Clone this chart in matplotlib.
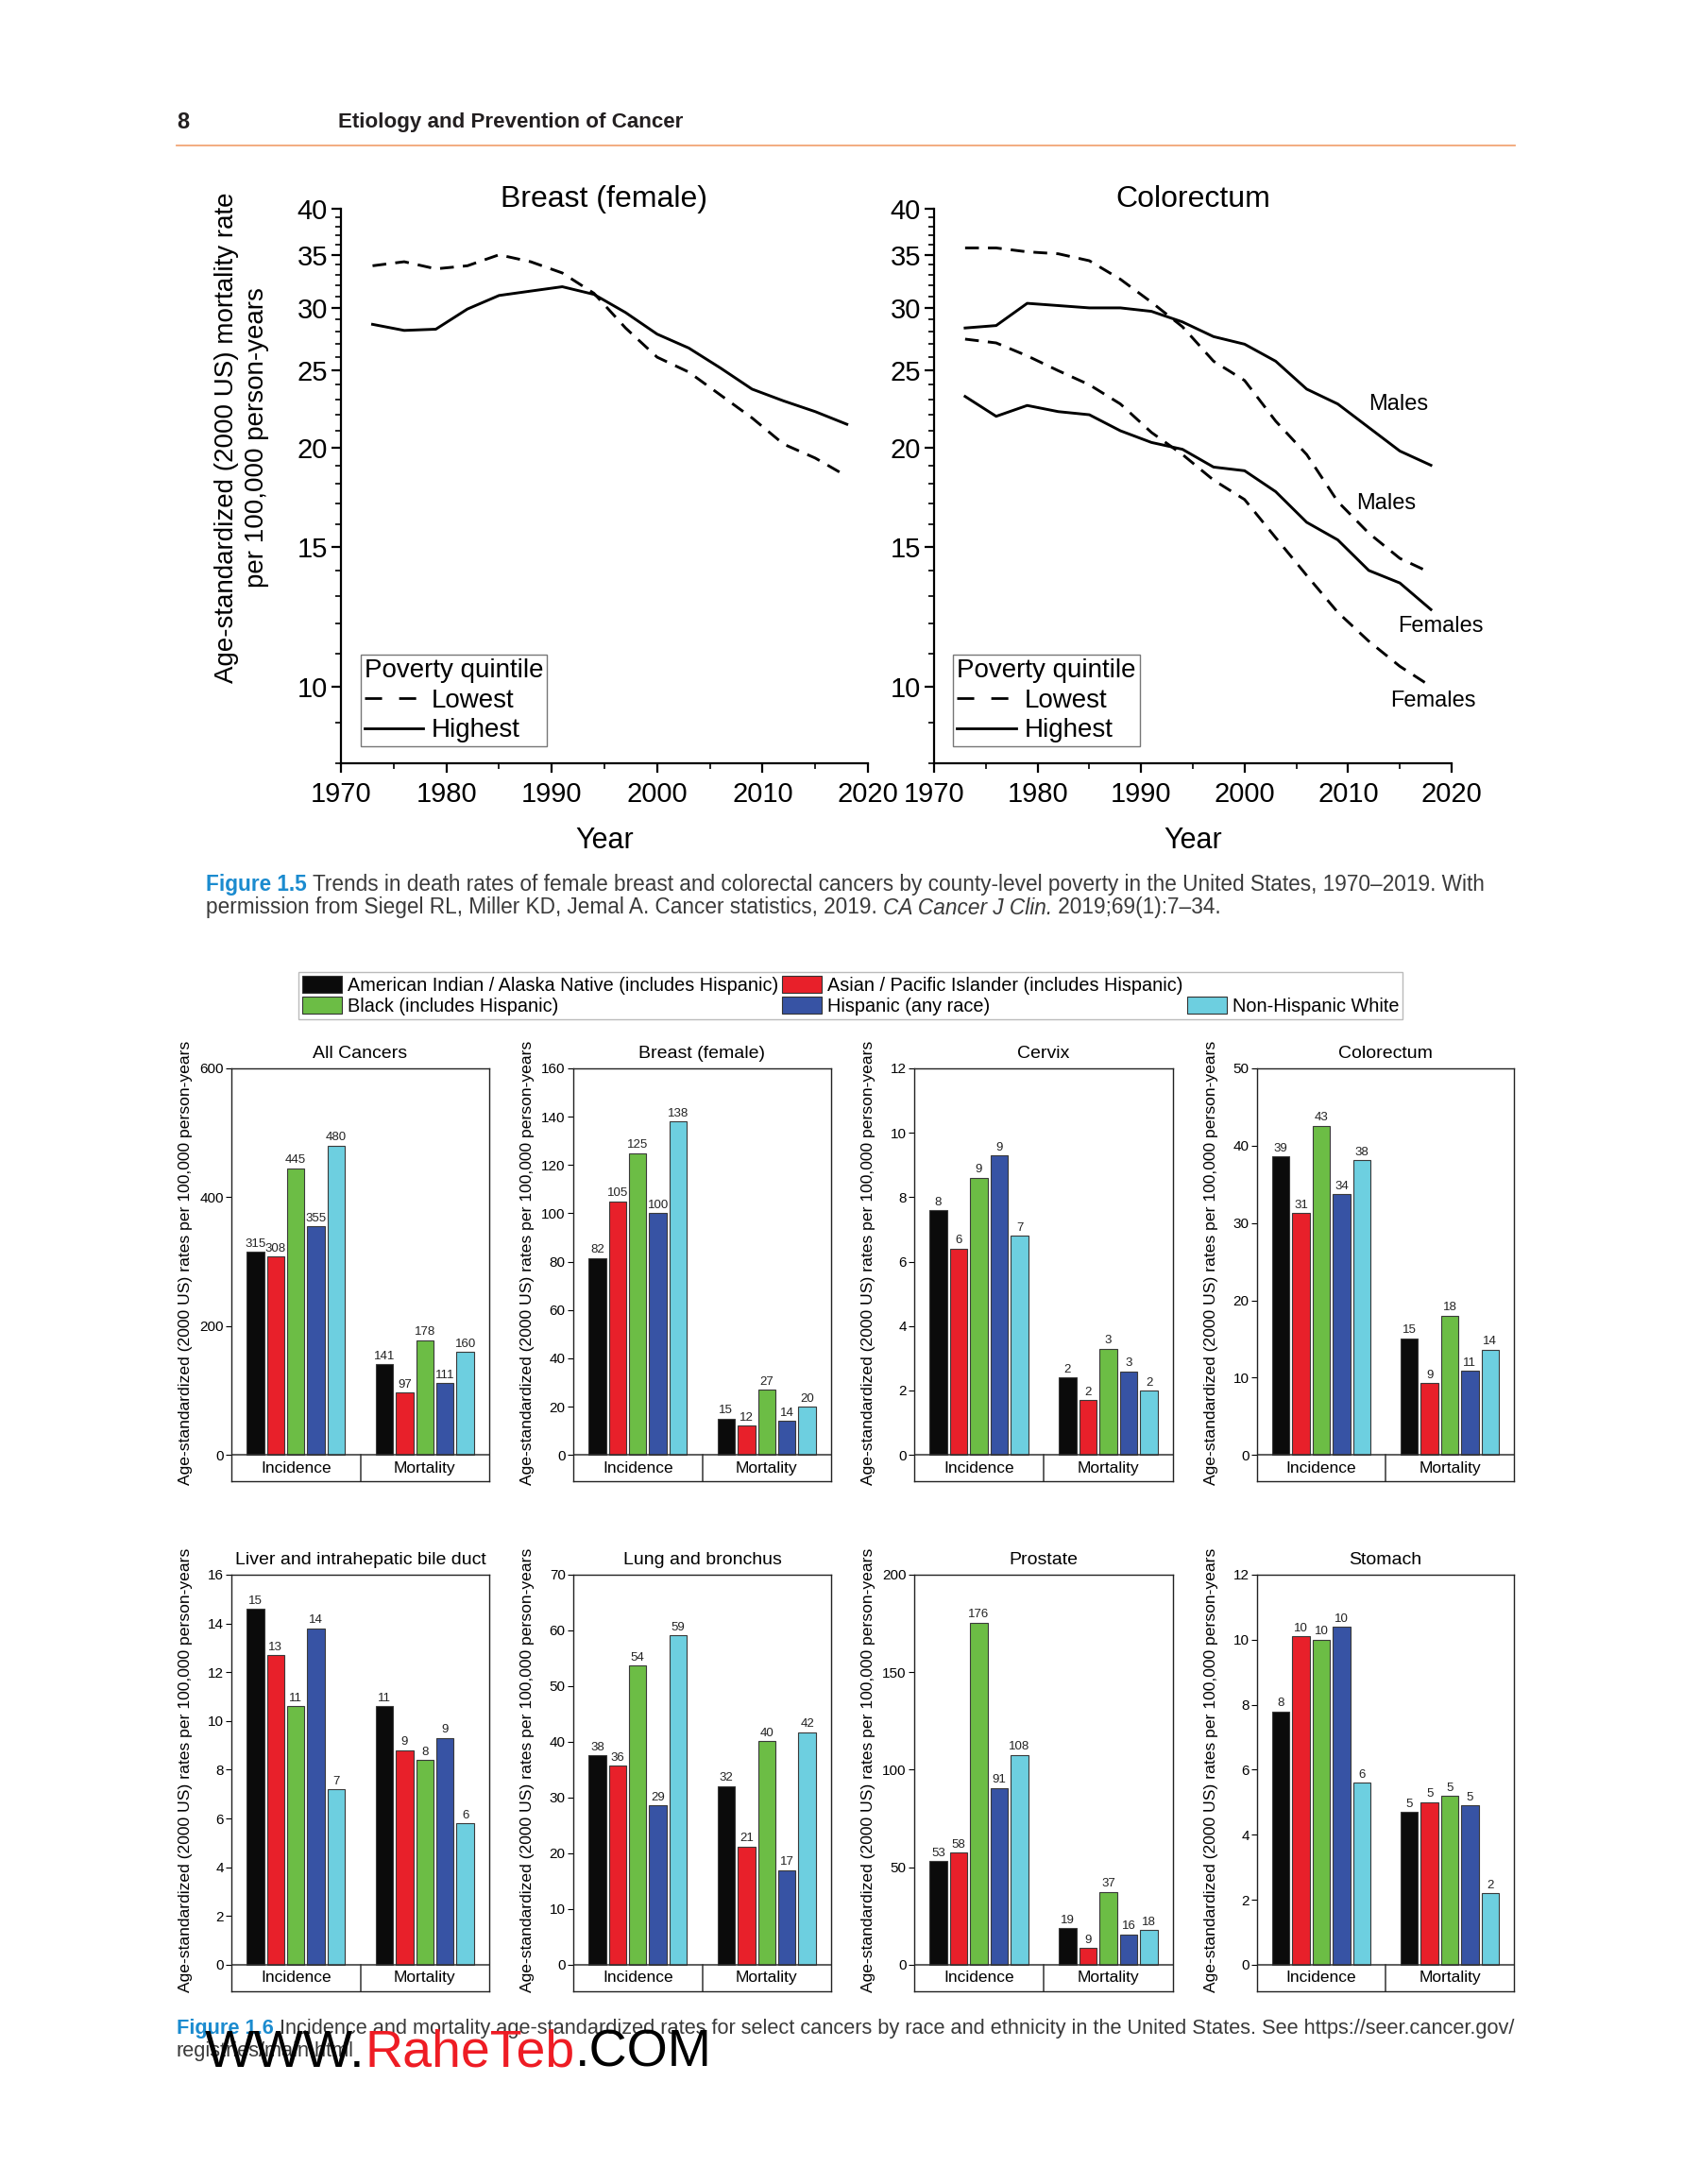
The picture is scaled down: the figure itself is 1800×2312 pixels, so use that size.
import numpy as np
import matplotlib
matplotlib.use("Agg")
import matplotlib.pyplot as plt
from matplotlib.lines import Line2D
from matplotlib.patches import Patch
from matplotlib.ticker import FixedLocator, FuncFormatter, NullFormatter, MultipleLocator

W, H, DPI = 1800, 2312, 100
plt.rcParams["font.family"] = ["Liberation Sans", "DejaVu Sans"]

# ---- Figure 1.5: death rates by county-level poverty quintile
years = [1973, 1976, 1979, 1982, 1985, 1988, 1991, 1994, 1997, 2000, 2003, 2006, 2009, 2012, 2015, 2018]
breast_lowest = [33.9, 34.3, 33.6, 33.9, 35.0, 34.3, 33.2, 31.3, 28.3, 26.0, 24.9, 23.3, 21.8, 20.2, 19.4, 18.4]
breast_highest = [28.6, 28.1, 28.2, 29.9, 31.1, 31.5, 31.9, 31.2, 29.6, 27.8, 26.7, 25.2, 23.7, 22.9, 22.2, 21.4]
crc_male_lowest = [35.7, 35.7, 35.3, 35.1, 34.4, 32.6, 30.5, 28.4, 25.7, 24.3, 21.6, 19.6, 17.1, 15.6, 14.5, 13.9]
crc_male_highest = [28.3, 28.5, 30.4, 30.2, 30.0, 30.0, 29.7, 28.8, 27.6, 27.0, 25.7, 23.7, 22.7, 21.2, 19.8, 19.0]
crc_female_lowest = [27.4, 27.1, 26.1, 25.0, 24.0, 22.7, 20.9, 19.6, 18.2, 17.2, 15.4, 13.8, 12.4, 11.4, 10.6, 10.0]
crc_female_highest = [23.2, 21.9, 22.6, 22.2, 22.0, 21.0, 20.3, 19.9, 18.9, 18.7, 17.6, 16.1, 15.3, 14.0, 13.5, 12.5]
trend_yticks = [10, 15, 20, 25, 30, 35, 40]

# ---- Figure 1.6: incidence / mortality by race and ethnicity
race_groups = ["American Indian / Alaska Native (includes Hispanic)",
               "Asian / Pacific Islander (includes Hispanic)",
               "Black (includes Hispanic)",
               "Hispanic (any race)",
               "Non-Hispanic White"]
race_colors = ["#0b0b0b", "#e8202a", "#6cbd45", "#3753a4", "#6dcfe0"]
measures = ["Incidence", "Mortality"]

all_inc = [315, 308, 445, 355, 480]
all_mort = [141, 97, 178, 111, 160]
breast_inc = [81.5, 105, 125, 100, 138]
breast_mort = [15, 12, 27, 14, 20]
cervix_inc = [7.6, 6.4, 8.6, 9.3, 6.8]
cervix_mort = [2.4, 1.7, 3.3, 2.6, 2.0]
colorectum_inc = [38.6, 31.3, 42.6, 33.7, 38.1]
colorectum_mort = [15.1, 9.3, 18.0, 10.9, 13.6]
liver_inc = [14.6, 12.7, 10.6, 13.8, 7.2]
liver_mort = [10.6, 8.8, 8.4, 9.3, 5.8]
lung_inc = [37.6, 35.7, 53.7, 28.6, 59.1]
lung_mort = [32.1, 21.2, 40.1, 17.0, 41.7]
prostate_inc = [53, 57.6, 175.5, 90.7, 107.5]
prostate_mort = [18.7, 8.6, 37.3, 15.6, 17.8]
stomach_inc = [7.8, 10.1, 10.0, 10.4, 5.6]
stomach_mort = [4.7, 5.0, 5.2, 4.9, 2.2]

sites = ["All Cancers", "Breast (female)", "Cervix", "Colorectum",
         "Liver and intrahepatic bile duct", "Lung and bronchus", "Prostate", "Stomach"]
site_ymax = [600, 160, 12, 50, 16, 70, 200, 12]
site_ystep = [200, 20, 2, 10, 2, 10, 50, 2]

TEXT = "#231f20"
CAPTION = "#3a3a3a"
CAPTION_BLUE = "#1b8bcf"
DASH = (0, (5, 3.3))

fig = plt.figure(figsize=(W / DPI, H / DPI), dpi=DPI)
renderer = fig.canvas.get_renderer()


def px_axes(left, top, right, bottom):
    return fig.add_axes([left / W, 1 - bottom / H, (right - left) / W, (bottom - top) / H])


def text_run(x, y, pieces, size):
    # consecutive text pieces on one line, each with its own style
    for s, kw in pieces:
        t = fig.text(x / W, 1 - y / H, s, fontsize=size, va="center", ha="left", **kw)
        x += t.get_window_extent(renderer).width


def trend_panel(ax, title, series):
    for vals, ls in series:
        ax.plot(years, vals, color="black", lw=2.1, linestyle=ls)
    ax.set_yscale("log")
    ax.set_ylim(8, 40)
    ax.set_xlim(1970, 2020)
    ax.yaxis.set_major_locator(FixedLocator(trend_yticks))
    ax.yaxis.set_major_formatter(FuncFormatter(lambda v, p: f"{v:.0f}"))
    ax.yaxis.set_minor_locator(FixedLocator(range(8, 41)))
    ax.yaxis.set_minor_formatter(NullFormatter())
    ax.xaxis.set_major_locator(MultipleLocator(10))
    ax.xaxis.set_minor_locator(MultipleLocator(5))
    for side in ("top", "right"):
        ax.spines[side].set_visible(False)
    for side in ("left", "bottom"):
        ax.spines[side].set_linewidth(1.6)
    ax.tick_params(which="major", direction="out", length=7, width=1.6, labelsize=21, pad=3)
    ax.tick_params(axis="x", which="major", pad=7)
    ax.tick_params(which="minor", direction="out", length=4, width=1.2)
    ax.set_xlabel("Year", fontsize=22, labelpad=14)
    bb = ax.get_position()
    fig.text((bb.x0 + bb.x1) / 2, 1 - 211 / H, title, fontsize=23, ha="center", va="center")
    handles = [Line2D([], [], color="black", lw=2.0, linestyle=(0, (6.5, 6.5))),
               Line2D([], [], color="black", lw=2.0)]
    leg = ax.legend(handles, ["Lowest", "Highest"], title="Poverty quintile",
                    loc="lower left", bbox_to_anchor=(0.037, 0.03), fontsize=20,
                    title_fontsize=20, alignment="left", fancybox=False, framealpha=1,
                    edgecolor="#777777", borderpad=0.15, handlelength=2.25,
                    handletextpad=0.3, labelspacing=0.2, borderaxespad=0)
    leg.get_frame().set_linewidth(1.0)


# ---- page header
fig.text(187 / W, 1 - 130 / H, "8", fontsize=17, fontweight="bold", color=TEXT, va="center")
fig.text(358 / W, 1 - 130 / H, "Etiology and Prevention of Cancer", fontsize=16.1,
         fontweight="bold", color=TEXT, va="center")
fig.add_artist(Line2D([187 / W, 1604 / W], [1 - 154 / H, 1 - 154 / H], color="#f2a676", lw=1.3))

# ---- Figure 1.5 panels
ax_b = px_axes(361, 221, 919, 808)
trend_panel(ax_b, "Breast (female)", [(breast_lowest, DASH), (breast_highest, "-")])
ax_b.set_ylabel("Age-standardized (2000 US) mortality rate\nper 100,000 person-years",
                fontsize=20, linespacing=1.3)
ax_b.yaxis.set_label_coords(-0.136, 0.588)

ax_c = px_axes(989, 221, 1537, 808)
trend_panel(ax_c, "Colorectum",
            [(crc_male_lowest, DASH), (crc_male_highest, "-"),
             (crc_female_lowest, DASH), (crc_female_highest, "-")])
for x, y, s in [(2014.9, 22.7, "Males"), (2013.7, 17.0, "Males"),
                (2018.9, 11.9, "Females"), (2018.2, 9.6, "Females")]:
    ax_c.text(x, y, s, fontsize=17, ha="center", va="center", clip_on=False)

text_run(218, 936, [("Figure 1.5 ", dict(color=CAPTION_BLUE, fontweight="bold")),
                    ("Trends in death rates of female breast and colorectal cancers by county-level "
                     "poverty in the United States, 1970\u20132019. With", dict(color=CAPTION))], 16.3)
text_run(218, 961, [("permission from Siegel RL, Miller KD, Jemal A. Cancer statistics, 2019. ",
                     dict(color=CAPTION)),
                    ("CA Cancer J Clin.", dict(color=CAPTION, style="italic")),
                    (" 2019;69(1):7\u201334.", dict(color=CAPTION))], 16.3)

# ---- Figure 1.6 legend (blank slot puts Non-Hispanic White on the second row)
legend_handles = [Patch(facecolor=c, edgecolor="#333333", lw=0.8) for c in race_colors]
blank = Patch(facecolor="none", edgecolor="none")
order = [0, 2, 1, 3]
handles = [legend_handles[i] for i in order] + [blank, legend_handles[4]]
labels = [race_groups[i] for i in order] + ["", race_groups[4]]
fig.legend(handles, labels, ncol=3, loc="upper left", bbox_to_anchor=(316 / W, 1 - 1029 / H),
           fontsize=14.3, fancybox=False, framealpha=1, edgecolor="#bbbbbb",
           borderpad=0.2, handlelength=2.1, handleheight=1.0, handletextpad=0.3,
           columnspacing=0.23, labelspacing=0.12, borderaxespad=0)

# ---- Figure 1.6 panels
site_data = [(all_inc, all_mort), (breast_inc, breast_mort), (cervix_inc, cervix_mort),
             (colorectum_inc, colorectum_mort), (liver_inc, liver_mort), (lung_inc, lung_mort),
             (prostate_inc, prostate_mort), (stomach_inc, stomach_mort)]
col_px = [(245, 518), (607, 880), (968, 1242), (1331, 1603)]
row_px = [(1131, 1568), (1667, 2108)]
n = len(race_groups)
slot, bar_w = 0.157, 0.135
offsets = (np.arange(n) - (n - 1) / 2) * slot

for k, (site, (inc, mort)) in enumerate(zip(sites, site_data)):
    l, r = col_px[k % 4]
    t, b = row_px[k // 4]
    ax = px_axes(l, t, r, b)
    ymax, step = site_ymax[k], site_ystep[k]
    ymin = -ymax * 0.068
    for gi, vals in enumerate([inc, mort]):
        bars = ax.bar(gi + offsets, vals, bar_w, color=race_colors, edgecolor="#3a3a3a", lw=0.8)
        for bar, v in zip(bars, vals):
            ax.text(bar.get_x() + bar.get_width() / 2, v + ymax * 0.006, f"{int(np.floor(v + 0.5))}",
                    ha="center", va="bottom", fontsize=9.5, color="#222222")
    ax.set_xlim(-0.5, 1.5)
    ax.set_ylim(ymin, ymax)
    ax.axhline(0, color="#333333", lw=1.1)
    ax.plot([0.5, 0.5], [ymin, 0], color="#333333", lw=1.1)
    for gi, m in enumerate(measures):
        ax.text(gi, ymin / 2, m, ha="center", va="center", fontsize=12.5)
    ax.set_yticks(np.arange(0, ymax + step / 2, step))
    ax.set_xticks([])
    ax.tick_params(axis="y", direction="out", length=4, labelsize=11, pad=2)
    for sp in ax.spines.values():
        sp.set_linewidth(1.0)
        sp.set_color("#222222")
    ax.set_title(site, fontsize=14, pad=8)
    ax.set_ylabel("Age-standardized (2000 US) rates per 100,000 person-years", fontsize=12.6)
    ax.yaxis.set_label_coords(-41 / (r - l), 0.53)

text_run(187, 2147, [("Figure 1.6 ", dict(color=CAPTION_BLUE, fontweight="bold")),
                     ("Incidence and mortality age-standardized rates for select cancers by race and "
                      "ethnicity in the United States. See https://seer.cancer.gov/", dict(color=CAPTION))], 15.7)
text_run(187, 2172, [("registries/main.html", dict(color=CAPTION))], 15.7)

# site watermark
text_run(217, 2174, [("WWW.", dict(color="black")), ("RaheTeb", dict(color="#ee1c24")),
                     (".COM", dict(color="black"))], 40)

fig.savefig("out.png", dpi=DPI)
